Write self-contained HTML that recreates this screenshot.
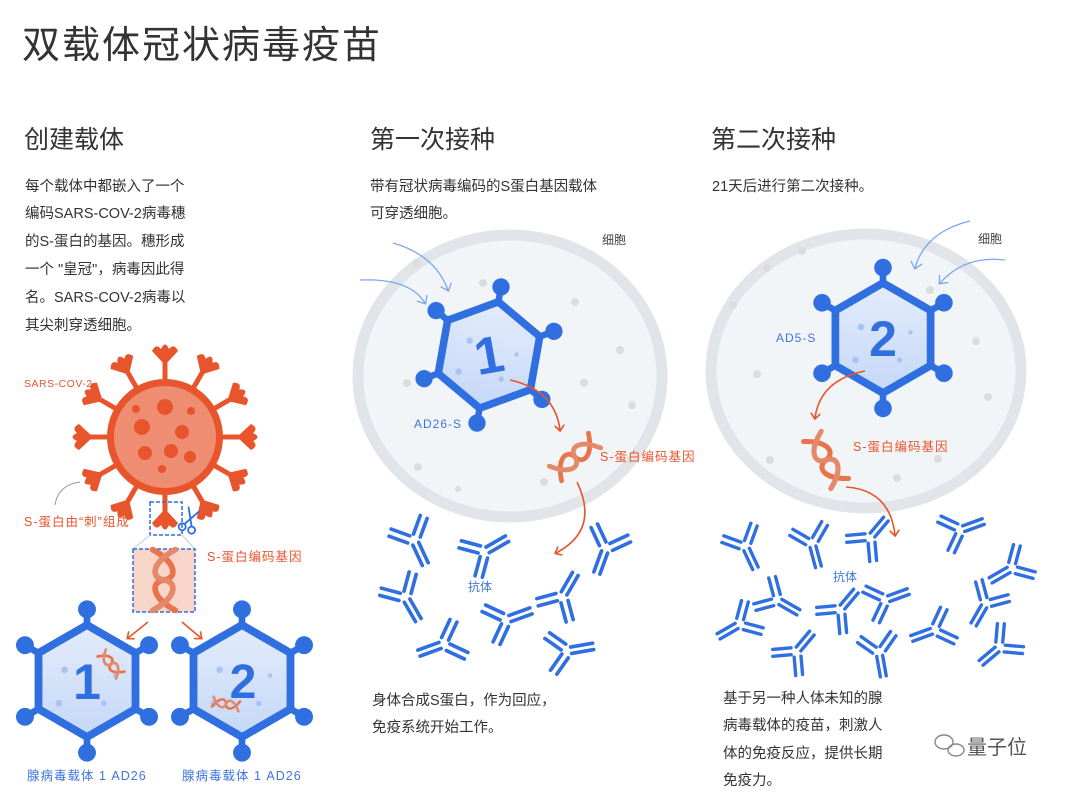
<!DOCTYPE html>
<html><head><meta charset="utf-8"><style>
body{margin:0;background:#fff;}
svg{display:block;font-family:"Liberation Sans","Noto Sans CJK SC",sans-serif;}
</style></head><body>
<svg width="1080" height="799" viewBox="0 0 1080 799" xmlns="http://www.w3.org/2000/svg">
<defs>
<marker id="ao" markerWidth="10" markerHeight="10" refX="5" refY="5" orient="auto" markerUnits="userSpaceOnUse"><path d="M0,0 L6,5 L0,10" fill="none" stroke="#e8542c" stroke-width="1.6"/></marker>
<marker id="abm" markerWidth="12" markerHeight="12" refX="6" refY="6" orient="auto" markerUnits="userSpaceOnUse"><path d="M0,0 L7,6 L0,12" fill="none" stroke="#7aa6ee" stroke-width="1.3"/></marker>
<linearGradient id="hg" x1="0" y1="0" x2="0" y2="1"><stop offset="0" stop-color="#e3ecfb"/><stop offset="1" stop-color="#c5d8f8"/></linearGradient>
<g id="hex">
 <g stroke="#2f6fe0" stroke-width="6">
  <line x1="0" y1="-50" x2="0" y2="-62"/><line x1="43.3" y1="-25" x2="53.7" y2="-31"/><line x1="43.3" y1="25" x2="53.7" y2="31"/>
  <line x1="0" y1="50" x2="0" y2="62"/><line x1="-43.3" y1="25" x2="-53.7" y2="31"/><line x1="-43.3" y1="-25" x2="-53.7" y2="-31"/>
 </g>
 <g fill="#2f6fe0"><circle cx="0" cy="-64" r="8"/><circle cx="55.4" cy="-32" r="8"/><circle cx="55.4" cy="32" r="8"/><circle cx="0" cy="64" r="8"/><circle cx="-55.4" cy="32" r="8"/><circle cx="-55.4" cy="-32" r="8"/></g>
 <polygon points="0,-50 43.3,-25 43.3,25 0,50 -43.3,25 -43.3,-25" fill="url(#hg)" stroke="#2f6fe0" stroke-width="7" stroke-linejoin="round"/>
 <g fill="#a9c3f3"><circle cx="-20" cy="-10" r="3"/><circle cx="15" cy="20" r="2.5"/><circle cx="-25" cy="20" r="3"/><circle cx="25" cy="-5" r="2"/></g>
</g>
<g id="antib" stroke="#2f6fe0" stroke-width="2.6" stroke-linecap="round" fill="none">
 <line x1="-2.3" y1="3" x2="-2.3" y2="19"/><line x1="2.3" y1="3" x2="2.3" y2="19"/>
 <line x1="-5" y1="0" x2="-15" y2="-10"/><line x1="-1.5" y1="-4" x2="-11.5" y2="-14"/>
 <line x1="5" y1="0" x2="15" y2="-10"/><line x1="1.5" y1="-4" x2="11.5" y2="-14"/>
</g>
<g id="spike"><rect x="-2.5" y="-78" width="5" height="22" fill="#e8542c"/>
 <path d="M0,-72 L-13,-86 Q-9,-94 -4,-88 Q0,-97 4,-88 Q9,-94 13,-86 Z" fill="#e8542c"/>
</g>
<g id="helix" fill="none" stroke="#e9744b" stroke-width="6" stroke-linecap="round">
 <path d="M-12,-32 C14,-18 14,-2 0,0 C-14,2 -14,18 12,32"/>
 <path d="M12,-32 C-14,-18 -14,-2 0,0 C14,2 14,18 -12,32" stroke="#e4896a"/>
</g>
</defs>

<text x="22" y="58" font-size="38" fill="#333" letter-spacing="2">双载体冠状病毒疫苗</text>
<g font-size="25" fill="#333">
<text x="24" y="148">创建载体</text><text x="370" y="148">第一次接种</text><text x="711" y="148">第二次接种</text>
</g>
<g font-size="14.5" fill="#333">
<text x="25" y="191">每个载体中都嵌入了一个</text>
<text x="25" y="218">编码SARS-COV-2病毒穗</text>
<text x="25" y="246">的S-蛋白的基因。穗形成</text>
<text x="25" y="274">一个 "皇冠"，病毒因此得</text>
<text x="25" y="302">名。SARS-COV-2病毒以</text>
<text x="25" y="330">其尖刺穿透细胞。</text>
<text x="370" y="191">带有冠状病毒编码的S蛋白基因载体</text>
<text x="370" y="218">可穿透细胞。</text>
<text x="712" y="191">21天后进行第二次接种。</text>
<text x="372" y="705">身体合成S蛋白，作为回应，</text>
<text x="372" y="732">免疫系统开始工作。</text>
<text x="723" y="703">基于另一种人体未知的腺</text>
<text x="723" y="730">病毒载体的疫苗，刺激人</text>
<text x="723" y="758">体的免疫反应，提供长期</text>
<text x="723" y="785">免疫力。</text>
</g>
<g font-size="12" fill="#444"><text x="602" y="244">细胞</text><text x="978" y="243">细胞</text></g>

<!-- cells -->
<ellipse cx="510" cy="376" rx="152" ry="141" fill="#f2f5f8" stroke="#e1e5e9" stroke-width="11"/>
<ellipse cx="866" cy="371" rx="155" ry="137" fill="#f2f5f8" stroke="#e1e5e9" stroke-width="11"/>
<g fill="#dcdcdc">
<circle cx="417" cy="263" r="4"/><circle cx="483" cy="283" r="4"/><circle cx="575" cy="302" r="4"/><circle cx="620" cy="350" r="4"/><circle cx="407" cy="383" r="4"/><circle cx="584" cy="383" r="4"/><circle cx="632" cy="405" r="4"/><circle cx="418" cy="467" r="4"/><circle cx="544" cy="482" r="4"/><circle cx="458" cy="489" r="3"/>
<circle cx="767" cy="268" r="4"/><circle cx="802" cy="251" r="4"/><circle cx="733" cy="305" r="4"/><circle cx="757" cy="374" r="4"/><circle cx="976" cy="341" r="4"/><circle cx="988" cy="397" r="4"/><circle cx="938" cy="459" r="4"/><circle cx="770" cy="460" r="4"/><circle cx="897" cy="478" r="4"/><circle cx="930" cy="290" r="4"/>
</g>
<!-- blue arrows -->
<path d="M393,243 Q435,255 448,290" fill="none" stroke="#7aa6ee" stroke-width="1.3" marker-end="url(#abm)"/>
<path d="M360,280 Q410,278 425,303" fill="none" stroke="#7aa6ee" stroke-width="1.3" marker-end="url(#abm)"/>
<path d="M970,221 Q925,232 915,268" fill="none" stroke="#7aa6ee" stroke-width="1.3" marker-end="url(#abm)"/>
<path d="M1005,260 Q965,255 940,283" fill="none" stroke="#7aa6ee" stroke-width="1.3" marker-end="url(#abm)"/>

<!-- cell hexagons -->
<use href="#hex" transform="translate(489,355) rotate(10) scale(1.08)"/>
<text x="489" y="373" font-size="52" font-weight="bold" fill="#2f6fe0" text-anchor="middle" transform="rotate(-10 489 355)">1</text>
<use href="#hex" transform="translate(883,338) scale(1.1)"/>
<text x="883" y="356" font-size="50" font-weight="bold" fill="#2f6fe0" text-anchor="middle">2</text>
<g font-size="12" fill="#3d75e0" letter-spacing="1"><text x="414" y="428">AD26-S</text><text x="776" y="342">AD5-S</text></g>

<!-- orange arrows in cells -->
<path d="M510,380 Q555,390 560,430" fill="none" stroke="#e8542c" stroke-width="1.6" marker-end="url(#ao)"/>
<use href="#helix" transform="translate(575,457) rotate(50) scale(0.8)"/>
<path d="M577,482 Q600,530 556,553" fill="none" stroke="#e8542c" stroke-width="1.6" marker-end="url(#ao)"/>
<path d="M865,371 Q820,380 815,418" fill="none" stroke="#e8542c" stroke-width="1.6" marker-end="url(#ao)"/>
<use href="#helix" transform="translate(826,460) rotate(-30) scale(0.85)"/>
<path d="M846,487 Q890,490 895,535" fill="none" stroke="#e8542c" stroke-width="1.6" marker-end="url(#ao)"/>
<g font-size="12.5" fill="#e8542c" letter-spacing="1"><text x="600" y="461">S-蛋白编码基因</text><text x="853" y="451">S-蛋白编码基因</text></g>

<!-- antibodies col2 -->
<use href="#antib" transform="translate(414,540) rotate(-25) scale(1.4)"/>
<use href="#antib" transform="translate(484,552) rotate(-120) scale(1.4)"/>
<use href="#antib" transform="translate(606,548) rotate(20) scale(1.4)"/>
<use href="#antib" transform="translate(405,597) rotate(-30) scale(1.4)"/>
<use href="#antib" transform="translate(562,597) rotate(-150) scale(1.4)"/>
<use href="#antib" transform="translate(444,644) rotate(70) scale(1.4)"/>
<use href="#antib" transform="translate(506,620) rotate(-110) scale(1.4)"/>
<use href="#antib" transform="translate(567,651) rotate(-100) scale(1.4)"/>
<text x="468" y="591" font-size="12" fill="#3d75e0">抗体</text>
<!-- antibodies col3 -->
<use href="#antib" transform="translate(745,546) rotate(-25) scale(1.3)"/>
<use href="#antib" transform="translate(812,543) rotate(-15) scale(1.3)"/>
<use href="#antib" transform="translate(870,538) rotate(-140) scale(1.3)"/>
<use href="#antib" transform="translate(960,530) rotate(-110) scale(1.3)"/>
<use href="#antib" transform="translate(1012,568) rotate(60) scale(1.3)"/>
<use href="#antib" transform="translate(777,600) rotate(-60) scale(1.3)"/>
<use href="#antib" transform="translate(840,610) rotate(-140) scale(1.3)"/>
<use href="#antib" transform="translate(885,600) rotate(-110) scale(1.3)"/>
<use href="#antib" transform="translate(986,603) rotate(30) scale(1.3)"/>
<use href="#antib" transform="translate(740,624) rotate(60) scale(1.3)"/>
<use href="#antib" transform="translate(796,652) rotate(-140) scale(1.3)"/>
<use href="#antib" transform="translate(879,652) rotate(-10) scale(1.3)"/>
<use href="#antib" transform="translate(935,630) rotate(70) scale(1.3)"/>
<use href="#antib" transform="translate(1000,647) rotate(50) scale(1.3)"/>
<text x="833" y="581" font-size="12" fill="#3d75e0">抗体</text>

<!-- virus -->
<g transform="translate(165,437)">
<use href="#spike" transform="rotate(0)"/><use href="#spike" transform="rotate(30)"/><use href="#spike" transform="rotate(60)"/><use href="#spike" transform="rotate(90)"/><use href="#spike" transform="rotate(120)"/><use href="#spike" transform="rotate(150)"/><use href="#spike" transform="rotate(180)"/><use href="#spike" transform="rotate(210)"/><use href="#spike" transform="rotate(240)"/><use href="#spike" transform="rotate(270)"/><use href="#spike" transform="rotate(300)"/><use href="#spike" transform="rotate(330)"/>
<circle r="58" fill="#e8542c"/><circle r="51" fill="#ef8d72"/>
<g fill="#e8542c"><circle cx="0" cy="-30" r="8"/><circle cx="-23" cy="-10" r="8"/><circle cx="17" cy="-5" r="7"/><circle cx="-20" cy="16" r="7"/><circle cx="6" cy="14" r="7"/><circle cx="25" cy="20" r="6"/><circle cx="-29" cy="-28" r="4"/><circle cx="26" cy="-26" r="4"/><circle cx="-3" cy="32" r="4"/></g>
</g>
<text x="24" y="387" font-size="10.5" fill="#e8542c" letter-spacing="0.5">SARS-COV-2</text>
<path d="M55,505 Q58,485 80,482" fill="none" stroke="#999" stroke-width="1"/>
<text x="24" y="526" font-size="12.5" fill="#e8542c" letter-spacing="1">S-蛋白由“刺”组成</text>
<rect x="150" y="502" width="32" height="33" fill="none" stroke="#2f6fe0" stroke-width="1.5" stroke-dasharray="4,2"/>
<g transform="translate(190,520) rotate(20)" stroke="#2f6fe0" stroke-width="1.8" fill="none"><line x1="-6" y1="-12" x2="4" y2="6"/><line x1="6" y1="-12" x2="-4" y2="6"/><circle cx="-5" cy="9" r="3.5"/><circle cx="5" cy="9" r="3.5"/></g>
<path d="M150,535 L133,549 M182,535 L195,549" stroke="#b9cdf2" stroke-width="1"/>
<rect x="133" y="549" width="62" height="63" fill="#f7d5c8" stroke="#2f6fe0" stroke-width="1.5" stroke-dasharray="4,2"/>
<use href="#helix" transform="translate(164,580) scale(0.95)"/>
<text x="207" y="561" font-size="12.5" fill="#e8542c" letter-spacing="1">S-蛋白编码基因</text>
<path d="M148,622 L128,638" stroke="#e8542c" stroke-width="1.6" marker-end="url(#ao)"/>
<path d="M182,622 L201,638" stroke="#e8542c" stroke-width="1.6" marker-end="url(#ao)"/>

<!-- bottom hexagons -->
<use href="#hex" transform="translate(87,681) scale(1.12)"/>
<text x="87" y="699" font-size="50" font-weight="bold" fill="#2f6fe0" text-anchor="middle">1</text>
<use href="#helix" transform="translate(111,664) rotate(-40) scale(0.45)"/>
<use href="#hex" transform="translate(242,681) scale(1.12)"/>
<text x="243" y="698" font-size="48" font-weight="bold" fill="#2f6fe0" text-anchor="middle">2</text>
<use href="#helix" transform="translate(226,704) rotate(-80) scale(0.42)"/>
<g font-size="12.5" fill="#3d75e0" letter-spacing="1"><text x="27" y="780">腺病毒载体 1 AD26</text><text x="182" y="780">腺病毒载体 1 AD26</text></g>

<!-- watermark -->
<g stroke="#888" fill="none" stroke-width="1.4"><ellipse cx="944" cy="742" rx="9" ry="7"/><ellipse cx="956" cy="750" rx="8" ry="6"/></g>
<text x="967" y="754" font-size="20" fill="#555">量子位</text>
</svg>
</body></html>
